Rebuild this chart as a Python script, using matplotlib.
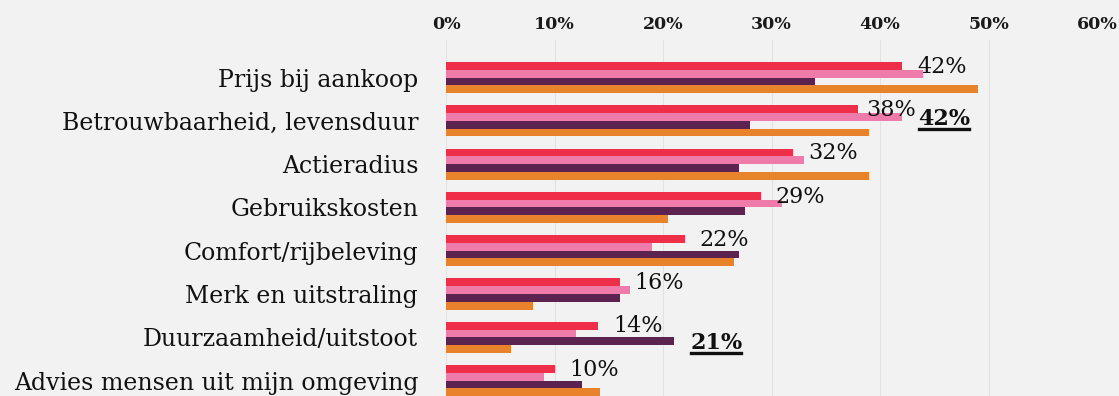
import matplotlib
matplotlib.use("Agg")
import matplotlib.pyplot as plt
from matplotlib.lines import Line2D
import numpy as np

# ---- data -------------------------------------------------------------
categories = [
    "Prijs bij aankoop",
    "Betrouwbaarheid, levensduur",
    "Actieradius",
    "Gebruikskosten",
    "Comfort/rijbeleving",
    "Merk en uitstraling",
    "Duurzaamheid/uitstoot",
    "Advies mensen uit mijn omgeving",
]
groep_1 = [42, 38, 32, 29, 22, 16, 14, 10]          # labelled series
groep_2 = [44, 42, 33, 31, 19, 17, 12, 9]
groep_3 = [34, 28, 27, 27.6, 27, 16, 21, 12.5]
groep_4 = [49, 39, 39, 20.5, 26.5, 8, 6, 14.2]
tick_values = [0, 10, 20, 30, 40, 50, 60]
tick_labels = ["0%", "10%", "20%", "30%", "40%", "50%", "60%"]

# highlighted (bold, underlined) values: (category index, series index)
highlights = [(1, 1), (6, 2)]

# ---- style ------------------------------------------------------------
colors = ["#EF2E4A", "#EE7BAA", "#5C2350", "#E8822B"]
bg = "#F2F2F2"
serif = ["DejaVu Serif"]

W, H, DPI = 1119, 396, 100
fig = plt.figure(figsize=(W / DPI, H / DPI), dpi=DPI, facecolor=bg)

x0_px, x1_px = 446, 1097
top_px = 40
ax = fig.add_axes([x0_px / W, 0, (x1_px - x0_px) / W, (H - top_px) / H])
ax.set_facecolor("none")

series = [groep_1, groep_2, groep_3, groep_4]
n = len(categories)
y = np.arange(n)
bar_h = 0.18
offsets = [-1.5 * bar_h, -0.5 * bar_h, 0.5 * bar_h, 1.5 * bar_h]

for vals, off, c in zip(series, offsets, colors):
    ax.barh(y + off, vals, height=bar_h, color=c, linewidth=0, zorder=3)

ax.set_xlim(0, 60)
ylo = (H - 77.5) / 43.3
yhi = (top_px - 77.5) / 43.3
ax.set_ylim(ylo, yhi)

ax.set_xticks(tick_values)
ax.set_xticklabels(tick_labels, fontfamily=serif, fontsize=12.5,
                   fontweight="semibold", color="#1a1a1a")
ax.xaxis.tick_top()
ax.tick_params(axis="x", length=0, pad=5)
ax.set_yticks(y)
ax.set_yticklabels(categories, fontfamily=serif, fontsize=17, color="#111111")
ax.tick_params(axis="y", length=0, pad=20)
for s in ax.spines.values():
    s.set_visible(False)
ax.grid(axis="x", color="#E2E2E2", linewidth=0.8, zorder=0)

# value labels of the first series
nudge = {1: -0.7}
for i, v in enumerate(groep_1):
    dx = 1.4 + nudge.get(i, 0)
    ax.text(v + dx, i + offsets[0] + 0.02, f"{v:g}%", fontfamily=serif,
            fontsize=16, va="center", ha="left", color="#111111", zorder=5)

# highlighted values, bold and underlined
under = []
for i, k in highlights:
    v = series[k][i]
    t = ax.text(v + 1.5, i + offsets[k] + 0.05, f"{v:g}%", fontfamily=serif,
                fontsize=16, fontweight="bold", va="center", ha="left",
                color="#111111", zorder=5)
    under.append(t)

fig.canvas.draw()
r = fig.canvas.get_renderer()
inv = fig.transFigure.inverted()
for t in under:
    bb = t.get_window_extent(r)
    (fx0, fy), (fx1, _) = inv.transform([(bb.x0 + 1, bb.y0 + 1), (bb.x1 - 1, bb.y0 + 1)])
    fig.add_artist(Line2D([fx0, fx1], [fy, fy], transform=fig.transFigure,
                          color="#111111", linewidth=2.4))

fig.savefig("out.png", dpi=DPI, facecolor=bg)
